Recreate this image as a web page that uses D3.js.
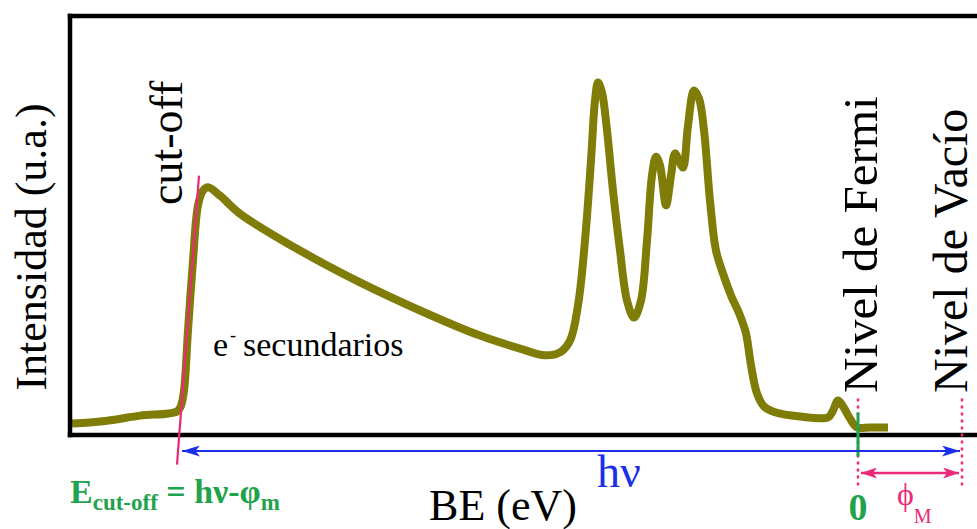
<!DOCTYPE html>
<html>
<head>
<meta charset="utf-8">
<script src="https://cdn.jsdelivr.net/npm/d3@7/dist/d3.min.js"></script>
<style>
  html, body { margin: 0; padding: 0; background: #fff; }
  svg { display: block; }
  text { font-family: "Liberation Serif", "Times New Roman", serif; }
</style>
</head>
<body>
<svg id="chart" width="977" height="529"></svg>
<script>
// Photoemission spectrum (binding energy, arbitrary intensity units)
const bindingEnergy = [
  78.6, 75.1, 71.8, 68.1, 67.7, 67.4, 67.0, 66.5, 66.0, 65.5, 65.0, 63.8, 61.8,
  55.8, 49.8, 43.8, 37.8, 33.8, 31.3, 29.8, 28.8, 28.0, 27.3, 26.7, 26.3, 26.0,
  25.6, 25.1, 24.5, 23.8, 23.1, 22.4, 21.7, 21.1, 20.6, 20.2, 19.8, 19.2, 18.7,
  18.3, 17.9, 17.5, 17.0, 16.4, 15.9, 15.4, 14.8, 14.2, 13.5, 12.7, 11.8, 11.2,
  10.7, 10.1, 9.4, 8.3, 5.8, 3.0, 2.5, 2.0, 1.5, 0.8, 0.1, -1.2, -3.0
];
const intensity = [
  2.6, 3.3, 4.5, 5.5, 6.9, 10.5, 24.8, 41.5, 54.7, 58.2, 59.0, 57.0, 52.7,
  43.9, 36.3, 29.6, 23.6, 20.5, 18.9, 19.6, 22.4, 30.8, 46.3, 65.4, 79.7, 84.0,
  81.6, 72.6, 58.2, 43.9, 32.0, 27.9, 32.0, 46.3, 61.8, 66.3, 64.2, 54.7, 61.8,
  67.1, 65.4, 63.7, 73.7, 82.1, 80.2, 72.6, 55.8, 43.9, 38.4, 33.2, 28.4, 24.1,
  16.5, 9.8, 6.7, 5.3, 4.3, 4.1, 5.7, 8.1, 6.7, 3.8, 1.7, 1.7, 1.7
];

// Reference energies
const fermiLevel = 0;       // BE = 0
const vacuumLevel = -10.4;  // Fermi level minus the work function
const cutoffEdge = 67.8;    // secondary-electron cut-off

// Tangent line fitted to the cut-off edge: [BE, intensity]
const cutoffTangentBE = [65.9, 68.1];
const cutoffTangentI = [61.8, -7.2];

// Text labels
const yTitle = "Intensidad (u.a.)";
const xTitle = "BE (eV)";
const fermiLabel = "Nivel de Fermi";
const vacuumLabel = "Nivel de Vacío";
const cutoffLabel = "cut-off";

const svg = d3.select("#chart");
const plotLeft = 69.5, plotRight = 977, plotTop = 15.5, plotBottom = 434.5;

const x = d3.scaleLinear().domain([78.85, -11.9]).range([plotLeft, plotRight]);
const y = d3.scaleLinear().domain([0, 100]).range([plotBottom, plotTop]);

const olive = "#807c08";
const pink = "#ea2a78";
const green = "#1fa34c";
const blue = "#1b2fe8";

// Arrow markers
const defs = svg.append("defs");
function marker(id, color, len, half) {
  defs.append("marker")
    .attr("id", id)
    .attr("markerUnits", "userSpaceOnUse")
    .attr("viewBox", `0 ${-half} ${len} ${2 * half}`)
    .attr("refX", len).attr("refY", 0)
    .attr("markerWidth", len).attr("markerHeight", 2 * half)
    .attr("orient", "auto-start-reverse")
    .append("path")
    .attr("d", `M0,${-half}L${len},0L0,${half}L${len * 0.25},0Z`)
    .attr("fill", color);
}
marker("arrowBlue", blue, 18, 5.5);
marker("arrowPink", pink, 16, 5.5);

// Spectrum
const pts = bindingEnergy.map((b, i) => [b, intensity[i]]);
const line = d3.line()
  .x(d => x(d[0]))
  .y(d => y(d[1]))
  .curve(d3.curveCatmullRom.alpha(0.5));

svg.append("path")
  .datum(pts)
  .attr("d", line)
  .attr("fill", "none")
  .attr("stroke", olive)
  .attr("stroke-width", 8)
  .attr("stroke-linejoin", "round")
  .attr("stroke-linecap", "butt");

// Frame (axes without ticks)
const frame = svg.append("g").attr("class", "frame");
frame.append("g")
  .attr("transform", `translate(0,${plotBottom})`)
  .call(d3.axisBottom(x).tickValues([]).tickSizeOuter(0));
frame.append("g")
  .attr("transform", `translate(0,${plotTop})`)
  .call(d3.axisTop(x).tickValues([]).tickSizeOuter(0));
frame.append("g")
  .attr("transform", `translate(${plotLeft},0)`)
  .call(d3.axisLeft(y).tickValues([]).tickSizeOuter(0));
frame.selectAll(".domain")
  .attr("stroke", "#000")
  .attr("stroke-width", 4.5)
  .attr("stroke-linecap", "square");

// Cut-off tangent
svg.append("line")
  .attr("x1", x(cutoffTangentBE[0])).attr("y1", y(cutoffTangentI[0]))
  .attr("x2", x(cutoffTangentBE[1])).attr("y2", y(cutoffTangentI[1]))
  .attr("stroke", pink).attr("stroke-width", 2.2);

// Fermi and vacuum level markers (dotted)
[fermiLevel, vacuumLevel].forEach(v => {
  svg.append("line")
    .attr("x1", x(v)).attr("x2", x(v))
    .attr("y1", plotBottom - 36).attr("y2", plotBottom + 54)
    .attr("stroke", pink).attr("stroke-width", 2.5)
    .attr("stroke-dasharray", "3,4");
});

// Fermi level tick
svg.append("line")
  .attr("x1", x(fermiLevel)).attr("x2", x(fermiLevel))
  .attr("y1", plotBottom - 22).attr("y2", plotBottom + 22)
  .attr("stroke", green).attr("stroke-width", 3);

// hν arrow (cut-off to vacuum level)
svg.append("line")
  .attr("x1", x(cutoffEdge) + 2).attr("x2", x(vacuumLevel) - 2)
  .attr("y1", plotBottom + 16.5).attr("y2", plotBottom + 16.5)
  .attr("stroke", blue).attr("stroke-width", 2)
  .attr("marker-start", "url(#arrowBlue)")
  .attr("marker-end", "url(#arrowBlue)");

// Work function arrow
svg.append("line")
  .attr("x1", x(fermiLevel) + 3).attr("x2", x(vacuumLevel) - 3)
  .attr("y1", plotBottom + 38.5).attr("y2", plotBottom + 38.5)
  .attr("stroke", pink).attr("stroke-width", 2.5)
  .attr("marker-start", "url(#arrowPink)")
  .attr("marker-end", "url(#arrowPink)");

// Axis titles
svg.append("text")
  .attr("transform", "translate(46,247) rotate(-90)")
  .attr("text-anchor", "middle")
  .attr("font-size", 44)
  .attr("fill", "#000")
  .text(yTitle);

svg.append("text")
  .attr("x", 503).attr("y", 520)
  .attr("text-anchor", "middle")
  .attr("font-size", 44)
  .attr("fill", "#000")
  .text(xTitle);

// Vertical labels
function vlabel(px, py, txt, size) {
  svg.append("text")
    .attr("transform", `translate(${px},${py}) rotate(-90)`)
    .attr("text-anchor", "start")
    .attr("font-size", size)
    .attr("fill", "#000")
    .text(txt);
}
vlabel(182, 205, cutoffLabel, 46);
vlabel(x(fermiLevel) + 19, 393, fermiLabel, 49);
vlabel(x(vacuumLevel) + 5, 393, vacuumLabel, 48);

// Secondary electrons label
const sec = svg.append("text")
  .attr("x", 213).attr("y", 356)
  .attr("font-size", 34)
  .attr("fill", "#000");
sec.append("tspan").text("e");
sec.append("tspan").attr("x", 230).attr("dy", -15).attr("font-size", 18).text("-");
sec.append("tspan").attr("x", 243).attr("dy", 15).text("secundarios");

// hν label
svg.append("text")
  .attr("x", 597).attr("y", 487)
  .attr("font-size", 46)
  .attr("fill", blue)
  .text("hν");

// Cut-off energy relation
const f = svg.append("text")
  .attr("x", 70).attr("y", 503)
  .attr("font-size", 34)
  .attr("font-weight", "bold")
  .attr("fill", green);
f.append("tspan").text("E");
f.append("tspan").attr("dy", 7).attr("font-size", 23).text("cut-off");
f.append("tspan").attr("dy", -7).text(" = hν-φ");
f.append("tspan").attr("dy", 7).attr("font-size", 23).text("m");

// Zero of the binding-energy scale
svg.append("text")
  .attr("x", x(fermiLevel)).attr("y", 520)
  .attr("text-anchor", "middle")
  .attr("font-size", 38)
  .attr("font-weight", "bold")
  .attr("fill", green)
  .text("0");

// Work function label
const wf = svg.append("text")
  .attr("x", 897).attr("y", 505)
  .attr("font-size", 32)
  .attr("fill", pink);
wf.append("tspan").text("ϕ");
wf.append("tspan").attr("dy", 18).attr("font-size", 20).text("M");
</script>
</body>
</html>
